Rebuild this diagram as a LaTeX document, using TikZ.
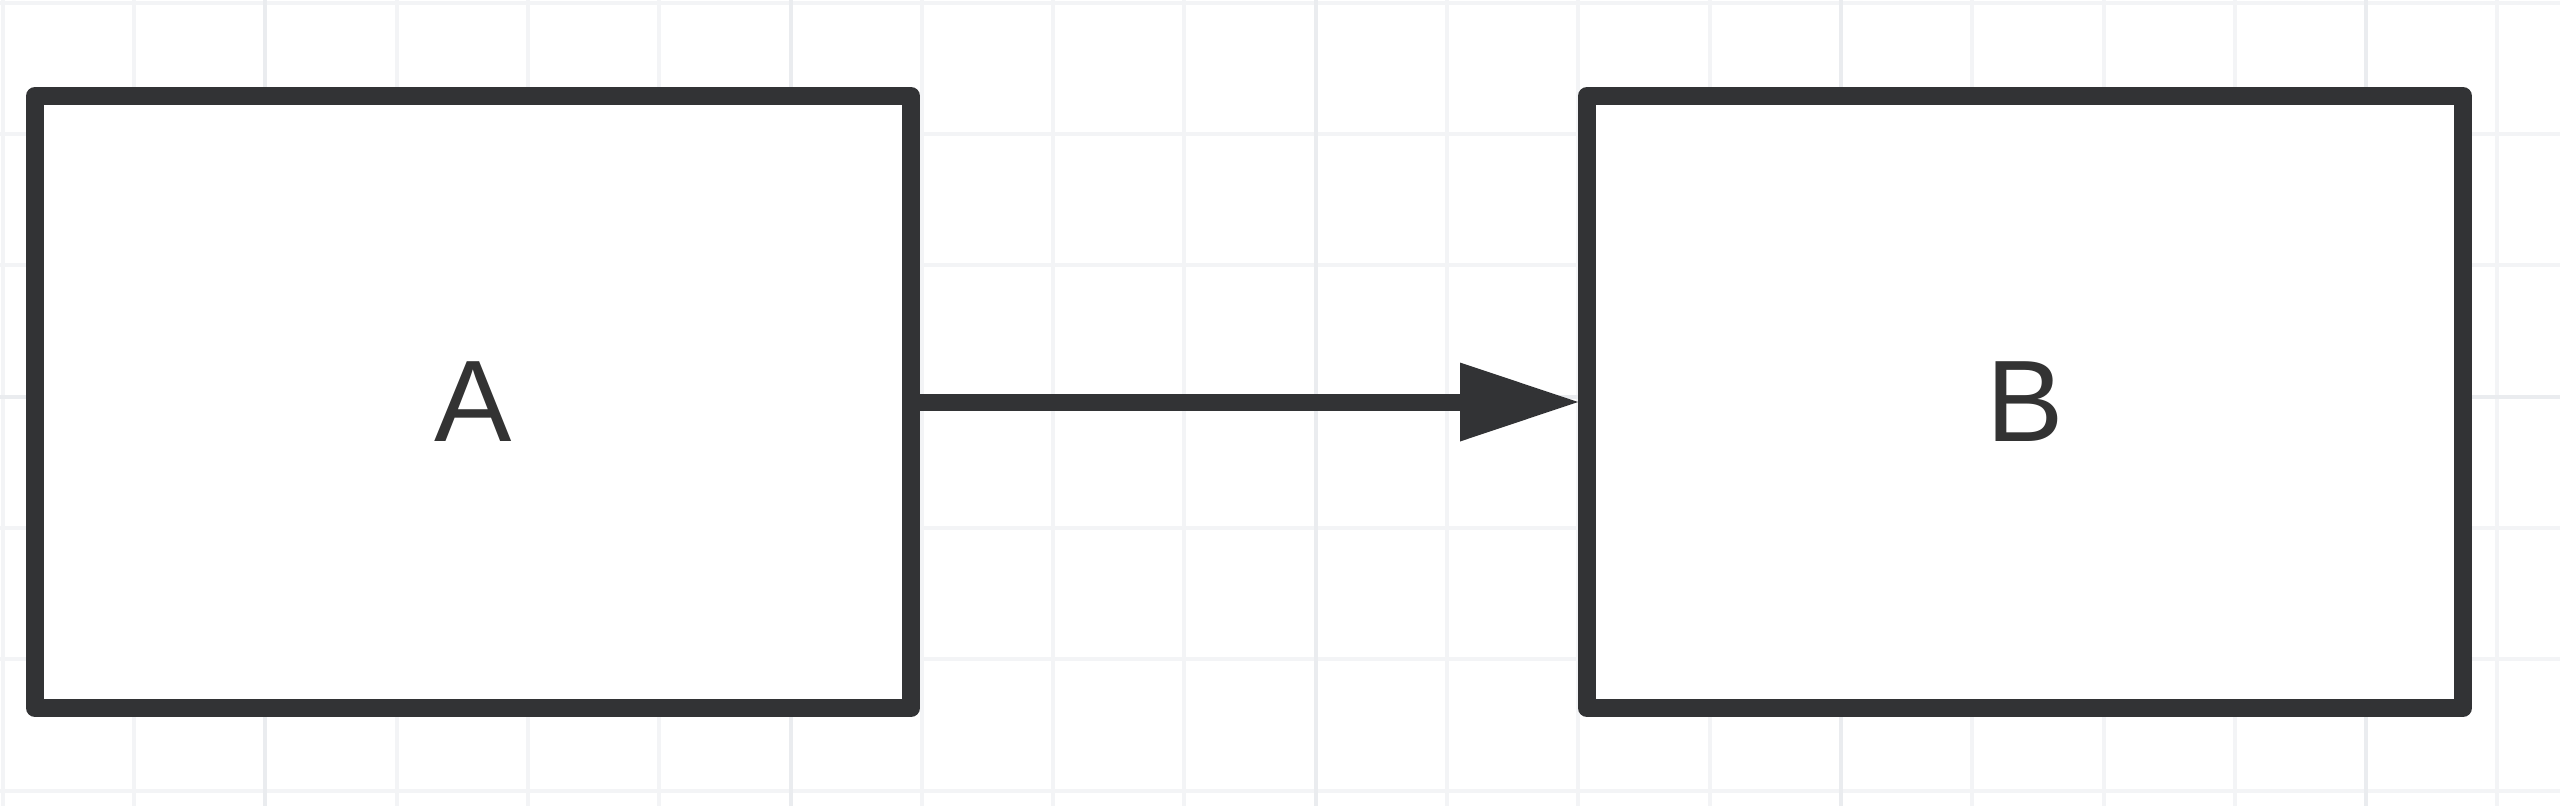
\documentclass[tikz,border=0pt]{standalone}
\usepackage{fontspec}
\setmainfont{Liberation Sans}
\usetikzlibrary{arrows.meta}
\definecolor{ink}{HTML}{323335}
\definecolor{txt}{HTML}{333333}
\definecolor{gridminor}{HTML}{F3F4F6}
\definecolor{gridmajor}{HTML}{EAECEF}
\tikzset{
  box/.style={draw=ink, line width=18pt, fill=white, line join=round,
    minimum width=876pt, minimum height=612pt, inner sep=0pt,
    text=txt, font=\fontsize{116}{120}\selectfont},
  conn/.style={draw=ink, line width=17pt,
    -{Triangle[length=118pt,width=79pt,line width=0pt]}},
  minorline/.style={draw=gridminor, line width=4pt},
  majorline/.style={draw=gridmajor, line width=4pt}
}
\newcommand{\boxlabel}[1]{\raisebox{-3.5pt}{#1}}
\begin{document}
\begin{tikzpicture}[x=1pt,y=-1pt]
  \fill[white] (0,0) rectangle (2560,806);
  \useasboundingbox (0,0) rectangle (2560,806);
  % grid
  \foreach \k in {0,...,19} {
    \draw[minorline] ({2.7+131.3*\k},0) -- ({2.7+131.3*\k},806);
  }
  \foreach \k in {0,...,6} {
    \draw[minorline] (0,{2.7+131.3*\k}) -- (2560,{2.7+131.3*\k});
  }
  \foreach \k in {2,6,10,14,18} {
    \draw[majorline] ({2.7+131.3*\k},0) -- ({2.7+131.3*\k},806);
  }
  \draw[majorline] (0,{2.7+131.3*3}) -- (2560,{2.7+131.3*3});
  % boxes
  \node[box] (a) at (473,402) {\boxlabel{A}};
  \node[box] (b) at (2025,402) {\boxlabel{B}};
  % connector
  \draw[conn] (a.east) -- (b.west);
\end{tikzpicture}
\end{document}
